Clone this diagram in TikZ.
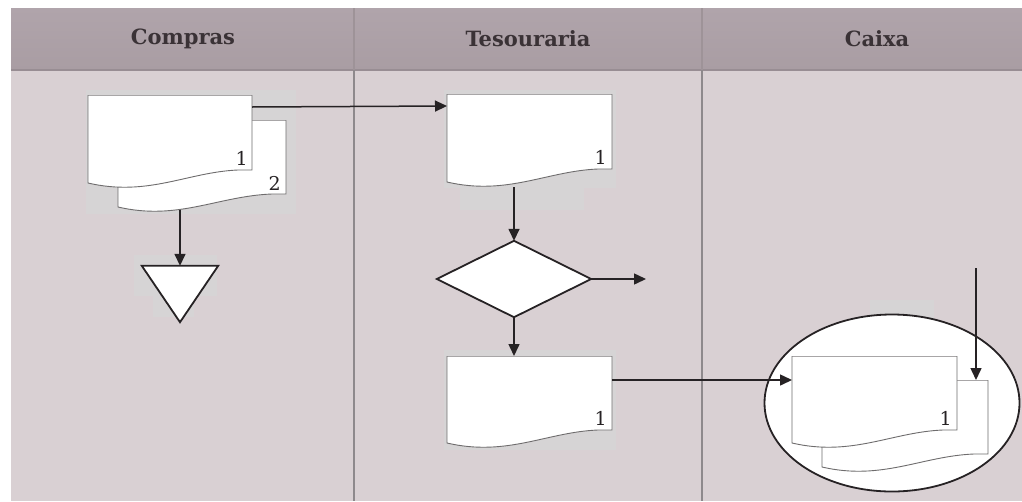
\documentclass[tikz,border=0pt]{standalone}
\usepackage{fontspec}
\setmainfont{DejaVu Serif}
\usetikzlibrary{arrows.meta,calc,shapes.geometric}
\definecolor{bgc}{HTML}{D9D0D3}
\definecolor{haloc}{HTML}{D6D4D5}
\definecolor{headtop}{HTML}{B0A4AB}
\definecolor{headbot}{HTML}{A99DA3}
\definecolor{headline}{HTML}{988D93}
\definecolor{headdiv}{HTML}{9E9398}
\definecolor{divc}{HTML}{8E898C}
\definecolor{ink}{HTML}{262224}
\definecolor{docgray}{HTML}{6E6C6D}
\definecolor{doctopc}{HTML}{A8A6A7}
\definecolor{headtext}{HTML}{3A3236}
\newcommand\drawdoc[1]{%
  \fill[white] (#1.north west) -- (#1.north east) -- ($(#1.south east)+(0,-13)$) -- ($(#1.south east)+(-14,-13)$)
    .. controls ($(#1.south west)+(100,-11)$) and ($(#1.south west)+(60,14)$) .. (#1.south west) -- cycle;
  \draw[doctop] (#1.north west) -- (#1.north east);
  \draw[docline] (#1.north east) -- ($(#1.south east)+(0,-13)$) -- ($(#1.south east)+(-14,-13)$)
    .. controls ($(#1.south west)+(100,-11)$) and ($(#1.south west)+(60,14)$) .. (#1.south west) -- (#1.north west);}
\begin{document}
\begin{tikzpicture}[x=1pt,y=-1pt,
  docline/.style={draw=docgray, line width=0.9pt, line join=miter},
  doctop/.style={draw=doctopc, line width=0.9pt},
  arr/.style={draw=ink, line width=1.5pt, -{Triangle[length=12pt,width=11pt]}},
  shapeline/.style={draw=ink, line width=1.8pt, fill=white},
  docbox/.style={rectangle, draw=none, inner sep=0pt, outer sep=0pt, minimum width=165pt, minimum height=88pt, anchor=north west},
  num/.style={font=\fontsize{19}{19}\selectfont, text=ink, inner sep=0pt, anchor=base east},
  head/.style={font=\bfseries\fontsize{21}{24}\selectfont, text=headtext, inner sep=0pt},
  divider/.style={draw=divc, line width=1.6pt},
  halo/.style={fill=haloc}
]
\useasboundingbox (0,0) rectangle (1022,501);
% background and header
\fill[bgc] (11,70) rectangle (1022,501);
\shade[top color=headtop, bottom color=headbot] (11,8) rectangle (1022,70);
\draw[headline, line width=1.6pt] (11,70) -- (1022,70);
\draw[headdiv, line width=1.4pt] (354,8) -- (354,70);
\draw[headdiv, line width=1.4pt] (702,8) -- (702,70);
\draw[divider] (354,70) -- (354,501);
\draw[divider] (702,70) -- (702,501);
\node[head] (hc) at (183,39) {Compras};
\node[head] (ht) at (528,39) {Tesouraria};
\node[head] (hx) at (877,39) {Caixa};

% faint halos behind the shapes
\path[halo] (86,90) rectangle (296,214);
\path[halo] (134,255) rectangle (217,296);
\path[halo] (153,296) rectangle (194,317);
\path[halo] (444,90) rectangle (616,188);
\path[halo] (460,188) rectangle (584,210);
\path[halo] (444,350) rectangle (616,450);
\path[halo] (870,300) rectangle (934,318);

% Compras
\node[docbox, minimum width=168pt, minimum height=87pt] (d2) at (118,120) {};
\drawdoc{d2}
\node[num] (n2) at ($(d2.south east)+(-5,-17)$) {2};
\node[docbox, minimum width=164pt] (d1) at (88,95) {};
\drawdoc{d1}
\node[num] (n1) at ($(d1.south east)+(-4,-18)$) {1};
\node[rectangle, draw=none, minimum width=76pt, minimum height=56pt, inner sep=0pt] (tri) at (180,294) {};
\draw[shapeline] (tri.north west) -- (tri.north east) -- (tri.south) -- cycle;
\coordinate (d2b) at ($(d2.south west)+(62,3)$);
\draw[arr] (d2b -| tri.north) -- (tri.north);

% Tesouraria
\node[docbox] (d3) at (447,94) {};
\drawdoc{d3}
\node[num] (n3) at ($(d3.south east)+(-5,-18)$) {1};
\node[rectangle, draw=none, minimum width=154pt, minimum height=76pt, inner sep=0pt] (dia) at (514,279) {};
\draw[shapeline] (dia.north) -- (dia.east) -- (dia.south) -- (dia.west) -- cycle;
\node[docbox, minimum height=87pt] (d4) at (447,356) {};
\drawdoc{d4}
\node[num] (n4) at ($(d4.south east)+(-5,-18)$) {1};
\coordinate (out) at (646,279);
\coordinate (d3b) at ($(d3.south west)+(67,5)$);
\draw[arr] ($(d1.north east)+(0,12)$) -- ($(d3.north west)+(0,12)$);
\draw[arr] (d3b -| dia.north) -- (dia.north);
\draw[arr] (dia.east) -- (out);
\draw[arr] (dia.south) -- (d4.north -| dia.south);

% Caixa
\node[ellipse, draw=ink, line width=1.8pt, fill=white, minimum width=255pt, minimum height=177pt, inner sep=0pt] (ell) at (892,403) {};
\node[docbox, minimum width=166pt, minimum height=87pt] (d6) at (822,380) {};
\drawdoc{d6}
\node[docbox, minimum height=87pt] (d5) at (792,356) {};
\drawdoc{d5}
\node[num] (n5) at ($(d5.south east)+(-5,-18)$) {1};
\coordinate (top) at (976,268);
\draw[arr] (top) -- (top |- d6.north);
\draw[arr] ($(d4.north east)+(0,24)$) -- ($(d5.north west)+(0,24)$);
\end{tikzpicture}
\end{document}
